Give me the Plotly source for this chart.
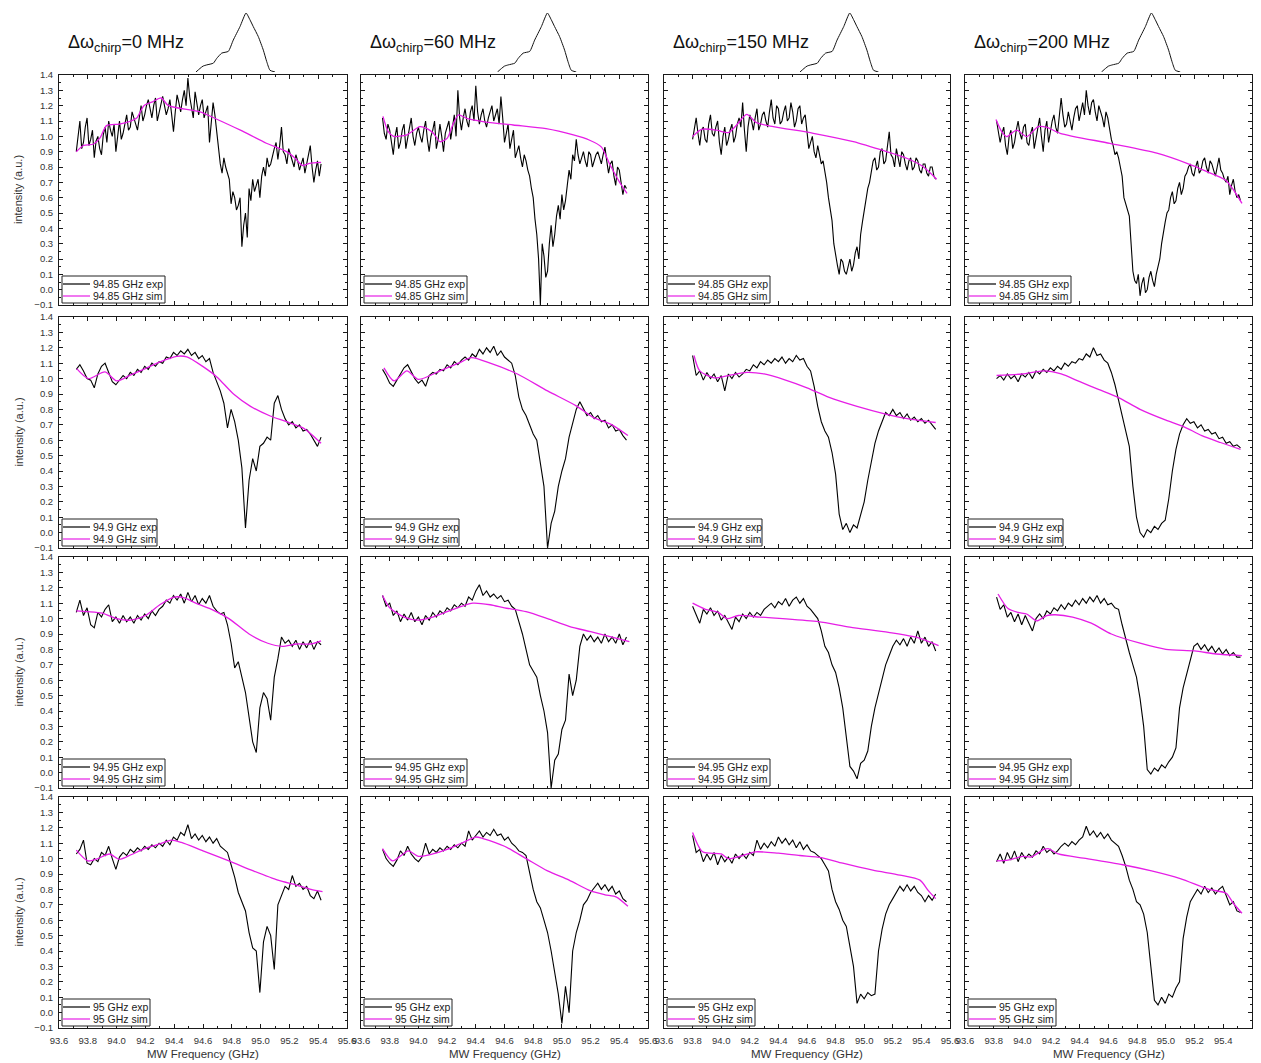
import numpy as np
import plotly.graph_objects as go

# ---------------------------------------------------------------- page geometry
W, H = 1261, 1063
FONT = "Arial, Liberation Sans, sans-serif"
COL_PX = [(59, 347), (361, 648), (664, 950), (965, 1252)]   # left/right of each column
ROW_PX = [(75, 305), (317, 548), (557, 788), (797, 1028)]   # top/bottom of each row
KEY_W = [106, 98, 106, 91]                                   # width of the key box per row

CHIRP_MHZ = ["0", "60", "150", "200"]
CENTER_GHZ = ["94.85", "94.9", "94.95", "95"]
EXP_START = [93.72, 93.75, 93.80, 93.82]   # first sample of each column's sweep (GHz)
EXP_STEP = [0.0125, 0.025, 0.025, 0.025]    # sweep step of each row (GHz)

# ---------------------------------------------------------------- experimental spectra
exp_94_85_c0 = [0.90, 1.02, 1.10, 0.92, 0.96, 1.06, 1.12, 0.94, 0.98, 1.04,
                0.86, 0.97, 1.00, 0.92, 0.88, 1.01, 1.06, 0.96, 1.10, 1.04,
                1.00, 1.08, 0.90, 1.00, 1.10, 0.98, 1.02, 1.08, 1.14, 1.04,
                1.06, 1.16, 1.12, 1.08, 1.04, 1.12, 1.20, 1.10, 1.14, 1.20,
                1.24, 1.18, 1.12, 1.20, 1.25, 1.10, 1.16, 1.22, 1.26, 1.20,
                1.14, 1.18, 1.24, 1.14, 1.03, 1.16, 1.27, 1.22, 1.16, 1.24,
                1.30, 1.20, 1.38, 1.26, 1.18, 1.12, 1.29, 1.22, 1.14, 1.20,
                1.24, 1.12, 1.16, 1.20, 0.96, 1.08, 1.22, 1.14, 1.02, 0.94,
                0.82, 0.76, 0.86, 0.80, 0.76, 0.72, 0.56, 0.64, 0.60, 0.52,
                0.55, 0.60, 0.28, 0.42, 0.50, 0.34, 0.66, 0.58, 0.72, 0.64,
                0.68, 0.72, 0.60, 0.74, 0.80, 0.74, 0.86, 0.80, 0.82, 0.88,
                0.92, 0.96, 0.85, 0.94, 1.06, 0.90, 0.88, 0.82, 0.92, 0.88,
                0.84, 0.80, 0.88, 0.84, 0.78, 0.82, 0.86, 0.76, 0.82, 0.86,
                0.94, 0.80, 0.70, 0.78, 0.84, 0.74, 0.82]
exp_94_85_c60 = [1.12, 1.02, 0.98, 1.08, 1.04, 0.96, 0.88, 1.00, 1.06, 0.92,
                 0.96, 1.04, 1.08, 0.92, 0.98, 1.04, 1.12, 1.00, 0.94, 1.02,
                 1.06, 1.00, 0.96, 1.04, 1.10, 0.98, 0.90, 1.00, 1.04, 1.10,
                 0.92, 0.98, 1.08, 1.00, 0.90, 1.02, 1.06, 1.10, 0.98, 1.06,
                 1.14, 1.00, 1.30, 1.12, 1.04, 1.12, 1.18, 1.10, 1.06, 1.16,
                 1.20, 1.10, 1.33, 1.16, 1.08, 1.14, 1.18, 1.10, 1.06, 1.12,
                 1.16, 1.20, 1.10, 1.14, 1.18, 1.08, 1.26, 1.12, 0.96, 1.02,
                 1.08, 0.92, 0.98, 1.04, 0.86, 0.90, 0.94, 0.86, 0.80, 0.88,
                 0.84, 0.78, 0.74, 0.66, 0.60, 0.46, 0.36, 0.20, -0.10, 0.30,
                 0.22, 0.08, 0.12, 0.30, 0.42, 0.28, 0.36, 0.48, 0.55, 0.46,
                 0.62, 0.52, 0.58, 0.68, 0.78, 0.72, 0.88, 0.84, 0.98, 0.88,
                 0.82, 0.86, 0.90, 0.84, 0.80, 0.90, 0.88, 0.80, 0.84, 0.88,
                 0.90, 0.86, 0.82, 0.88, 0.93, 0.84, 0.76, 0.82, 0.84, 0.74,
                 0.68, 0.80, 0.78, 0.70, 0.62, 0.68, 0.66]
exp_94_85_c150 = [0.98, 1.04, 1.12, 1.02, 0.94, 1.04, 1.06, 0.98, 0.96, 1.08,
                  1.14, 1.02, 1.00, 1.06, 1.10, 0.96, 0.88, 1.00, 1.06, 0.94,
                  0.98, 1.04, 1.08, 0.96, 1.00, 1.08, 1.12, 1.06, 1.22, 1.04,
                  0.90, 1.06, 1.14, 1.10, 1.04, 1.12, 1.18, 1.04, 1.08, 1.14,
                  1.16, 1.10, 1.06, 1.16, 1.24, 1.12, 1.08, 1.20, 1.18, 1.08,
                  1.10, 1.16, 1.20, 1.10, 1.12, 1.22, 1.16, 1.06, 1.10, 1.18,
                  1.20, 1.08, 1.12, 1.14, 1.02, 0.92, 0.96, 1.00, 0.90, 0.86,
                  0.94, 0.88, 0.82, 0.84, 0.78, 0.70, 0.60, 0.52, 0.45, 0.30,
                  0.22, 0.16, 0.10, 0.20, 0.18, 0.12, 0.10, 0.16, 0.20, 0.12,
                  0.16, 0.24, 0.28, 0.20, 0.36, 0.44, 0.52, 0.58, 0.66, 0.70,
                  0.78, 0.84, 0.86, 0.78, 0.80, 0.90, 0.92, 0.82, 0.84, 0.94,
                  1.03, 0.88, 0.86, 0.80, 0.92, 0.86, 0.80, 0.90, 0.88, 0.82,
                  0.78, 0.84, 0.86, 0.78, 0.80, 0.86, 0.84, 0.78, 0.76, 0.82,
                  0.82, 0.76, 0.74, 0.80, 0.80, 0.74, 0.72]
exp_94_85_c200 = [1.10, 1.04, 0.96, 1.02, 1.06, 0.94, 0.88, 1.00, 1.04, 0.92,
                  0.96, 1.04, 1.10, 1.02, 0.98, 1.06, 1.08, 0.96, 0.94, 1.02,
                  1.06, 0.92, 0.98, 1.06, 1.12, 1.00, 0.90, 1.04, 1.10, 0.96,
                  1.04, 1.10, 1.14, 1.06, 1.02, 1.12, 1.25, 1.14, 1.06, 1.08,
                  1.16, 1.10, 1.04, 1.12, 1.18, 1.20, 1.10, 1.16, 1.22, 1.14,
                  1.30, 1.20, 1.14, 1.22, 1.24, 1.16, 1.10, 1.20, 1.16, 1.12,
                  1.06, 1.16, 1.12, 1.04, 0.98, 0.94, 0.88, 0.90, 0.86, 0.80,
                  0.74, 0.60, 0.56, 0.52, 0.48, 0.30, 0.12, 0.06, 0.04, 0.10,
                  -0.04, 0.04, 0.08, -0.02, 0.00, 0.08, 0.12, 0.06, 0.02, 0.10,
                  0.16, 0.20, 0.30, 0.38, 0.44, 0.50, 0.52, 0.60, 0.64, 0.56,
                  0.58, 0.66, 0.70, 0.62, 0.66, 0.74, 0.76, 0.80, 0.82, 0.76,
                  0.74, 0.80, 0.84, 0.76, 0.78, 0.84, 0.86, 0.80, 0.76, 0.84,
                  0.82, 0.78, 0.74, 0.80, 0.86, 0.78, 0.76, 0.72, 0.70, 0.74,
                  0.62, 0.68, 0.72, 0.64, 0.60, 0.62, 0.58]

exp_94_9_c0 = [1.06, 1.09, 1.05, 1.00, 0.99, 0.94, 1.03, 1.08, 1.10, 1.04,
               0.98, 0.96, 0.99, 1.02, 1.00, 1.04, 1.02, 1.06, 1.04, 1.08,
               1.06, 1.10, 1.08, 1.11, 1.10, 1.14, 1.13, 1.17, 1.15, 1.18,
               1.16, 1.19, 1.15, 1.17, 1.13, 1.15, 1.11, 1.13, 1.04, 0.98,
               0.92, 0.84, 0.68, 0.80, 0.72, 0.60, 0.42, 0.03, 0.34, 0.48,
               0.40, 0.56, 0.58, 0.62, 0.60, 0.84, 0.89, 0.80, 0.74, 0.70,
               0.72, 0.68, 0.70, 0.66, 0.67, 0.64, 0.60, 0.56, 0.62]
exp_94_9_c60 = [1.06, 1.02, 0.97, 0.95, 0.99, 1.03, 1.07, 1.09, 1.04, 1.00,
                0.97, 0.99, 0.95, 1.02, 1.04, 1.03, 1.06, 1.05, 1.09, 1.07,
                1.11, 1.09, 1.12, 1.14, 1.12, 1.16, 1.14, 1.19, 1.16, 1.20,
                1.17, 1.21, 1.15, 1.18, 1.14, 1.12, 1.10, 1.02, 0.88, 0.80,
                0.76, 0.70, 0.64, 0.60, 0.44, 0.30, -0.10, 0.06, 0.14, 0.30,
                0.40, 0.48, 0.62, 0.72, 0.80, 0.85, 0.80, 0.76, 0.78, 0.74,
                0.76, 0.72, 0.73, 0.68, 0.70, 0.66, 0.67, 0.63, 0.60]
exp_94_9_c150 = [1.15, 1.02, 1.05, 0.99, 1.04, 1.00, 1.03, 0.98, 1.02, 0.92,
                 1.03, 1.00, 1.04, 1.01, 1.03, 1.06, 1.05, 1.09, 1.07, 1.11,
                 1.09, 1.12, 1.10, 1.13, 1.11, 1.14, 1.10, 1.13, 1.11, 1.15,
                 1.12, 1.13, 1.08, 1.05, 0.95, 0.82, 0.72, 0.66, 0.62, 0.52,
                 0.38, 0.12, 0.02, 0.06, 0.00, 0.05, 0.03, 0.12, 0.20, 0.34,
                 0.46, 0.58, 0.66, 0.72, 0.78, 0.76, 0.80, 0.76, 0.78, 0.74,
                 0.77, 0.73, 0.75, 0.72, 0.74, 0.71, 0.73, 0.70, 0.67]
exp_94_9_c200 = [1.00, 1.02, 0.99, 1.03, 1.00, 1.02, 0.98, 1.03, 1.01, 1.04,
                 1.00, 1.05, 1.03, 1.06, 1.04, 1.07, 1.05, 1.08, 1.06, 1.10,
                 1.08, 1.11, 1.10, 1.13, 1.12, 1.16, 1.14, 1.20, 1.15, 1.16,
                 1.12, 1.10, 1.04, 0.96, 0.86, 0.76, 0.64, 0.56, 0.30, 0.10,
                 0.00, -0.03, 0.02, 0.00, 0.04, 0.02, 0.06, 0.08, 0.22, 0.40,
                 0.54, 0.64, 0.70, 0.74, 0.71, 0.72, 0.68, 0.70, 0.66, 0.67,
                 0.64, 0.65, 0.61, 0.62, 0.58, 0.59, 0.56, 0.57, 0.55]

exp_94_95_c0 = [1.04, 1.12, 1.02, 1.07, 0.96, 0.94, 1.04, 1.01, 1.06, 1.09,
                0.98, 1.01, 0.97, 1.02, 0.98, 1.01, 0.97, 1.02, 0.99, 1.03,
                1.00, 1.05, 1.02, 1.06, 1.08, 1.12, 1.10, 1.15, 1.12, 1.16,
                1.10, 1.17, 1.11, 1.15, 1.09, 1.13, 1.10, 1.15, 1.08, 1.05,
                1.03, 1.04, 0.96, 0.84, 0.68, 0.72, 0.62, 0.52, 0.36, 0.20,
                0.13, 0.42, 0.52, 0.48, 0.34, 0.62, 0.74, 0.88, 0.84, 0.86,
                0.82, 0.86, 0.80, 0.85, 0.81, 0.86, 0.80, 0.85, 0.83]
exp_94_95_c60 = [1.15, 1.08, 1.10, 1.02, 1.05, 0.98, 1.03, 0.99, 1.04, 0.98,
                 1.01, 0.96, 1.02, 0.99, 1.04, 1.01, 1.05, 1.03, 1.07, 1.05,
                 1.09, 1.07, 1.10, 1.08, 1.14, 1.12, 1.18, 1.22, 1.15, 1.18,
                 1.14, 1.16, 1.13, 1.15, 1.11, 1.12, 1.08, 1.06, 0.98, 0.90,
                 0.80, 0.70, 0.66, 0.62, 0.50, 0.40, 0.26, -0.10, 0.08, 0.12,
                 0.28, 0.34, 0.64, 0.50, 0.60, 0.82, 0.90, 0.86, 0.89, 0.85,
                 0.88, 0.84, 0.90, 0.85, 0.88, 0.84, 0.90, 0.83, 0.88]
exp_94_95_c150 = [1.08, 1.02, 0.97, 1.06, 1.03, 1.07, 1.02, 1.05, 0.99, 1.02,
                  0.97, 0.93, 1.01, 0.98, 1.03, 1.00, 1.04, 1.01, 1.04, 1.02,
                  1.06, 1.08, 1.10, 1.07, 1.11, 1.09, 1.13, 1.08, 1.12, 1.14,
                  1.10, 1.13, 1.08, 1.06, 1.03, 1.00, 0.92, 0.82, 0.78, 0.70,
                  0.65, 0.55, 0.42, 0.22, 0.04, 0.01, -0.04, 0.06, 0.08, 0.14,
                  0.30, 0.42, 0.52, 0.60, 0.70, 0.76, 0.82, 0.86, 0.83, 0.87,
                  0.82, 0.88, 0.84, 0.92, 0.84, 0.88, 0.82, 0.85, 0.79]
exp_94_95_c200 = [1.14, 1.06, 1.09, 1.01, 1.04, 0.98, 1.03, 0.96, 1.02, 0.97,
                  0.92, 1.00, 1.03, 1.00, 1.05, 1.03, 1.07, 1.05, 1.09, 1.06,
                  1.10, 1.08, 1.12, 1.09, 1.13, 1.10, 1.14, 1.11, 1.15, 1.10,
                  1.13, 1.09, 1.10, 1.07, 1.06, 0.96, 0.86, 0.78, 0.70, 0.62,
                  0.48, 0.30, 0.02, -0.01, 0.03, 0.01, 0.05, 0.03, 0.07, 0.10,
                  0.16, 0.42, 0.55, 0.64, 0.72, 0.82, 0.84, 0.80, 0.83, 0.79,
                  0.82, 0.78, 0.81, 0.77, 0.80, 0.76, 0.78, 0.75, 0.75]

exp_95_c0 = [1.03, 1.06, 1.12, 0.97, 0.96, 1.00, 0.98, 1.04, 1.02, 1.08,
             1.00, 0.93, 1.01, 1.04, 1.02, 1.06, 1.04, 1.07, 1.05, 1.08,
             1.06, 1.09, 1.07, 1.10, 1.08, 1.12, 1.09, 1.14, 1.12, 1.17,
             1.15, 1.22, 1.13, 1.16, 1.12, 1.15, 1.11, 1.14, 1.10, 1.13,
             1.08, 1.06, 1.04, 0.96, 0.88, 0.78, 0.72, 0.66, 0.52, 0.42,
             0.40, 0.13, 0.46, 0.56, 0.50, 0.28, 0.70, 0.76, 0.82, 0.80,
             0.89, 0.82, 0.84, 0.80, 0.82, 0.76, 0.74, 0.79, 0.73]
exp_95_c60 = [1.06, 1.00, 0.97, 0.95, 0.99, 1.05, 1.02, 1.08, 1.03, 1.00,
              0.98, 1.01, 1.10, 1.03, 1.06, 1.04, 1.07, 1.05, 1.08, 1.06,
              1.09, 1.07, 1.10, 1.08, 1.18, 1.12, 1.15, 1.18, 1.14, 1.17,
              1.15, 1.19, 1.15, 1.16, 1.12, 1.14, 1.10, 1.08, 1.05, 1.04,
              1.02, 0.90, 0.80, 0.72, 0.68, 0.60, 0.52, 0.40, 0.26, 0.12,
              -0.07, 0.17, 0.00, 0.40, 0.52, 0.60, 0.70, 0.73, 0.78, 0.81,
              0.84, 0.80, 0.83, 0.79, 0.82, 0.77, 0.79, 0.74, 0.72]
exp_95_c150 = [1.15, 1.04, 1.06, 0.98, 1.03, 0.99, 1.04, 0.96, 1.02, 0.98,
               1.01, 0.97, 1.03, 1.00, 1.03, 1.00, 1.04, 1.02, 1.12, 1.06,
               1.10, 1.07, 1.11, 1.08, 1.14, 1.10, 1.13, 1.09, 1.12, 1.07,
               1.11, 1.06, 1.09, 1.05, 1.04, 1.02, 1.00, 0.96, 0.92, 0.80,
               0.72, 0.67, 0.60, 0.56, 0.44, 0.30, 0.06, 0.12, 0.09, 0.13,
               0.11, 0.12, 0.40, 0.54, 0.64, 0.70, 0.74, 0.78, 0.82, 0.79,
               0.83, 0.79, 0.82, 0.78, 0.76, 0.72, 0.76, 0.73, 0.77]
exp_95_c200 = [0.98, 1.03, 0.97, 1.04, 0.99, 1.05, 0.98, 1.04, 1.00, 1.03,
               1.01, 1.05, 1.03, 1.08, 1.04, 1.06, 1.03, 1.05, 1.08, 1.10,
               1.08, 1.11, 1.09, 1.12, 1.14, 1.21, 1.15, 1.18, 1.14, 1.17,
               1.13, 1.16, 1.12, 1.10, 1.08, 1.02, 0.95, 0.86, 0.80, 0.72,
               0.70, 0.64, 0.52, 0.30, 0.08, 0.05, 0.10, 0.06, 0.12, 0.10,
               0.16, 0.20, 0.48, 0.62, 0.72, 0.76, 0.80, 0.77, 0.82, 0.78,
               0.81, 0.77, 0.80, 0.82, 0.76, 0.70, 0.72, 0.66, 0.65]

# ---------------------------------------------------------------- simulated spectra (x, y)
sim_x_94_85_c0 = [93.72, 93.77, 93.84, 93.885, 93.93, 94.02, 94.10, 94.14, 94.19, 94.25, 94.31,
                  94.36, 94.58, 94.70, 94.86, 95.04, 95.18, 95.24, 95.29, 95.34, 95.42]
sim_y_94_85_c0 = [0.90, 0.94, 0.95, 0.99, 1.07, 1.08, 1.10, 1.12, 1.20, 1.225, 1.25,
                  1.20, 1.16, 1.11, 1.04, 0.955, 0.90, 0.857, 0.81, 0.824, 0.83]
sim_x_94_85_c60 = [93.753, 93.79, 93.827, 93.92, 94.01, 94.06, 94.105, 94.15, 94.20, 94.244, 94.28,
                   94.337, 94.45, 94.66, 94.89, 95.08, 95.19, 95.276, 95.33, 95.40, 95.454]
sim_y_94_85_c60 = [1.13, 1.03, 1.00, 1.01, 1.063, 1.05, 1.02, 0.965, 0.987, 1.085, 1.14,
                   1.117, 1.096, 1.074, 1.05, 1.009, 0.976, 0.93, 0.824, 0.704, 0.628]
sim_x_94_85_c150 = [93.798, 93.863, 93.968, 94.05, 94.108, 94.178, 94.248, 94.365, 94.644,
                    94.924, 95.157, 95.297, 95.413, 95.507]
sim_y_94_85_c150 = [0.998, 1.046, 1.04, 1.024, 1.074, 1.143, 1.089, 1.063, 1.02,
                    0.965, 0.90, 0.857, 0.802, 0.72]
sim_x_94_85_c200 = [93.816, 93.856, 93.89, 93.96, 94.03, 94.11, 94.17, 94.263, 94.61,
                    94.937, 95.147, 95.286, 95.414, 95.472, 95.53]
sim_y_94_85_c200 = [1.11, 1.03, 0.998, 1.04, 0.998, 1.063, 1.059, 1.02, 0.954,
                    0.89, 0.824, 0.77, 0.715, 0.65, 0.563]

sim_x_94_9_c0 = [93.723, 93.804, 93.92, 94.00, 94.094, 94.20, 94.302, 94.418, 94.488, 94.603,
                 94.696, 94.812, 94.93, 95.067, 95.18, 95.30, 95.42]
sim_y_94_9_c0 = [1.065, 1.00, 1.044, 0.985, 1.022, 1.065, 1.109, 1.145, 1.141, 1.076,
                 1.011, 0.90, 0.82, 0.757, 0.72, 0.677, 0.58]
sim_x_94_9_c60 = [93.76, 93.83, 93.92, 94.00, 94.15, 94.28, 94.37, 94.50, 94.69, 94.90,
                  95.10, 95.22, 95.34, 95.46]
sim_y_94_9_c60 = [1.07, 0.985, 1.05, 0.995, 1.05, 1.10, 1.136, 1.10, 1.03, 0.92,
                  0.823, 0.747, 0.704, 0.63]
sim_x_94_9_c150 = [93.81, 93.85, 93.95, 94.05, 94.18, 94.30, 94.45, 94.60, 94.75, 94.95,
                   95.15, 95.30, 95.50]
sim_y_94_9_c150 = [1.15, 1.05, 1.005, 1.02, 1.04, 1.03, 0.99, 0.94, 0.88, 0.82,
                   0.77, 0.74, 0.715]
sim_x_94_9_c200 = [93.82, 94.00, 94.15, 94.27, 94.40, 94.53, 94.67, 94.82, 95.00, 95.12,
                   95.25, 95.38, 95.52]
sim_y_94_9_c200 = [1.02, 1.03, 1.05, 1.03, 0.98, 0.93, 0.877, 0.80, 0.73, 0.69,
                   0.63, 0.585, 0.54]

sim_x_94_95_c0 = [93.72, 93.80, 93.90, 94.00, 94.10, 94.20, 94.30, 94.40, 94.47, 94.55,
                  94.67, 94.78, 94.92, 95.05, 95.15, 95.25, 95.35, 95.42]
sim_y_94_95_c0 = [1.05, 1.045, 1.035, 1.00, 0.99, 1.02, 1.09, 1.14, 1.135, 1.10,
                  1.055, 1.00, 0.90, 0.84, 0.82, 0.835, 0.835, 0.855]
sim_x_94_95_c60 = [93.75, 93.80, 93.90, 94.00, 94.10, 94.20, 94.30, 94.38, 94.50, 94.60,
                   94.75, 94.90, 95.05, 95.20, 95.35, 95.47]
sim_y_94_95_c60 = [1.15, 1.07, 1.01, 0.99, 1.01, 1.045, 1.08, 1.10, 1.09, 1.07,
                   1.045, 1.00, 0.95, 0.915, 0.88, 0.85]
sim_x_94_95_c150 = [93.80, 93.89, 93.98, 94.04, 94.12, 94.27, 94.43, 94.68, 94.90, 95.17,
                    95.38, 95.52]
sim_y_94_95_c150 = [1.10, 1.06, 1.04, 1.00, 1.02, 1.01, 1.00, 0.98, 0.945, 0.91,
                    0.875, 0.825]
sim_x_94_95_c200 = [93.83, 93.90, 93.97, 94.03, 94.10, 94.17, 94.23, 94.35, 94.48, 94.62,
                    94.82, 95.00, 95.20, 95.35, 95.53]
sim_y_94_95_c200 = [1.16, 1.065, 1.04, 1.03, 0.985, 1.02, 1.025, 1.01, 0.97, 0.90,
                    0.84, 0.80, 0.79, 0.77, 0.76]

sim_x_95_c0 = [93.72, 93.80, 93.87, 93.95, 94.02, 94.10, 94.20, 94.30, 94.38, 94.45,
               94.60, 94.78, 94.95, 95.12, 95.25, 95.35, 95.43]
sim_y_95_c0 = [1.055, 0.985, 1.00, 1.03, 0.995, 1.025, 1.066, 1.095, 1.12, 1.105,
               1.05, 0.985, 0.92, 0.86, 0.828, 0.80, 0.785]
sim_x_95_c60 = [93.75, 93.82, 93.93, 94.00, 94.10, 94.20, 94.30, 94.40, 94.45, 94.60,
                94.75, 94.90, 95.05, 95.20, 95.30, 95.38, 95.46]
sim_y_95_c60 = [1.065, 0.985, 1.05, 1.015, 1.03, 1.06, 1.10, 1.14, 1.13, 1.08,
                1.00, 0.92, 0.86, 0.79, 0.765, 0.75, 0.69]
sim_x_95_c150 = [93.80, 93.87, 94.00, 94.05, 94.15, 94.24, 94.40, 94.55, 94.70, 94.85,
                 95.06, 95.25, 95.39, 95.45, 95.50]
sim_y_95_c150 = [1.17, 1.044, 1.03, 1.00, 1.02, 1.044, 1.035, 1.02, 1.007, 0.97,
                 0.925, 0.893, 0.86, 0.79, 0.74]
sim_x_95_c200 = [93.82, 93.90, 94.00, 94.06, 94.15, 94.18, 94.25, 94.45, 94.70, 94.90,
                 95.10, 95.30, 95.42, 95.47, 95.53]
sim_y_95_c200 = [0.985, 0.99, 1.015, 1.01, 1.06, 1.065, 1.03, 1.00, 0.96, 0.92,
                 0.87, 0.80, 0.775, 0.71, 0.645]

# ---------------------------------------------------------------- excitation pulse profile
pulse_ghz = [94.551, 94.579, 94.60, 94.626, 94.672, 94.695, 94.73, 94.776, 94.81, 94.857,
             94.899, 94.925, 94.949, 94.984, 95.019, 95.042, 95.065, 95.10]
pulse_amp = [0.0, 0.06, 0.10, 0.12, 0.15, 0.23, 0.32, 0.35, 0.54, 0.77,
             1.0, 0.89, 0.77, 0.60, 0.37, 0.18, 0.03, 0.0]

EXP = [[exp_94_85_c0, exp_94_85_c60, exp_94_85_c150, exp_94_85_c200],
       [exp_94_9_c0, exp_94_9_c60, exp_94_9_c150, exp_94_9_c200],
       [exp_94_95_c0, exp_94_95_c60, exp_94_95_c150, exp_94_95_c200],
       [exp_95_c0, exp_95_c60, exp_95_c150, exp_95_c200]]
SIM_X = [[sim_x_94_85_c0, sim_x_94_85_c60, sim_x_94_85_c150, sim_x_94_85_c200],
         [sim_x_94_9_c0, sim_x_94_9_c60, sim_x_94_9_c150, sim_x_94_9_c200],
         [sim_x_94_95_c0, sim_x_94_95_c60, sim_x_94_95_c150, sim_x_94_95_c200],
         [sim_x_95_c0, sim_x_95_c60, sim_x_95_c150, sim_x_95_c200]]
SIM_Y = [[sim_y_94_85_c0, sim_y_94_85_c60, sim_y_94_85_c150, sim_y_94_85_c200],
         [sim_y_94_9_c0, sim_y_94_9_c60, sim_y_94_9_c150, sim_y_94_9_c200],
         [sim_y_94_95_c0, sim_y_94_95_c60, sim_y_94_95_c150, sim_y_94_95_c200],
         [sim_y_95_c0, sim_y_95_c60, sim_y_95_c150, sim_y_95_c200]]

EXP_COLOR = "#000000"
SIM_COLOR = "#e61ee6"
AXIS_COLOR = "#1a1a1a"
LABEL_COLOR = "#333333"
KEY_COLOR = "#222222"


def px_x(px):
    return px / W


def px_y(px):
    return 1 - px / H


def suffix(k):
    return "" if k == 1 else str(k)


fig = go.Figure()
layout = dict(width=W, height=H, autosize=False,
              margin=dict(l=0, r=0, t=0, b=0, autoexpand=False),
              paper_bgcolor="white", plot_bgcolor="white",
              font=dict(family=FONT, color=LABEL_COLOR),
              showlegend=False,
              annotations=[], shapes=[])

axis_common = dict(showline=True, linecolor=AXIS_COLOR, linewidth=1, mirror="allticks",
                   ticks="inside", ticklen=4, tickwidth=1, tickcolor=AXIS_COLOR,
                   showgrid=False, zeroline=False, fixedrange=True, automargin=False,
                   tickfont=dict(family=FONT, size=9.5, color=LABEL_COLOR))

for r in range(4):
    for c in range(4):
        k = r * 4 + c + 1
        s = suffix(k)
        x_exp = np.round(EXP_START[c] + EXP_STEP[r] * np.arange(len(EXP[r][c])), 4)
        fig.add_trace(go.Scatter(x=x_exp, y=EXP[r][c], mode="lines",
                                 line=dict(color=EXP_COLOR, width=1.1),
                                 name=f"{CENTER_GHZ[r]} GHz exp",
                                 xaxis="x" + s, yaxis="y" + s))
        fig.add_trace(go.Scatter(x=SIM_X[r][c], y=SIM_Y[r][c], mode="lines",
                                 line=dict(color=SIM_COLOR, width=1.3, shape="spline", smoothing=0.7),
                                 name=f"{CENTER_GHZ[r]} GHz sim",
                                 xaxis="x" + s, yaxis="y" + s))

        l_px, r_px = COL_PX[c]
        t_px, b_px = ROW_PX[r]
        layout["xaxis" + s] = dict(axis_common, domain=[px_x(l_px), px_x(r_px)], anchor="y" + s,
                                   range=[93.6, 95.6], tick0=93.6, dtick=0.2, tickformat=".1f",
                                   showticklabels=(r == 3), ticklabelstandoff=4,
                                   minor=dict(ticks="inside", ticklen=2, dtick=0.1,
                                              tickcolor=AXIS_COLOR, showgrid=False))
        layout["yaxis" + s] = dict(axis_common, domain=[px_y(b_px), px_y(t_px)], anchor="x" + s,
                                   range=[-0.1, 1.4], tick0=0, dtick=0.1, tickformat=".1f",
                                   showticklabels=(c == 0), ticklabelstandoff=3,
                                   minor=dict(ticks="inside", ticklen=2, dtick=0.05,
                                              tickcolor=AXIS_COLOR, showgrid=False))

        # key box in the lower-left corner of the panel
        kl = l_px + 3
        layout["shapes"].append(dict(type="rect", xref="paper", yref="paper", layer="above",
                                     x0=px_x(kl), x1=px_x(l_px + KEY_W[r]),
                                     y0=px_y(b_px - 2), y1=px_y(b_px - 29),
                                     line=dict(color=KEY_COLOR, width=1), fillcolor="white"))
        for row_y, color, label in ((b_px - 21, EXP_COLOR, "exp"), (b_px - 9, SIM_COLOR, "sim")):
            layout["shapes"].append(dict(type="line", xref="paper", yref="paper", layer="above",
                                         x0=px_x(l_px + 4), x1=px_x(l_px + 31),
                                         y0=px_y(row_y), y1=px_y(row_y),
                                         line=dict(color=color, width=1.2)))
            layout["annotations"].append(dict(
                text=f"{CENTER_GHZ[r]} GHz {label}", xref="paper", yref="paper",
                x=px_x(l_px + 32), y=px_y(row_y), xanchor="left", yanchor="middle",
                showarrow=False, font=dict(family=FONT, size=10.5, color=KEY_COLOR)))

# pulse profiles sitting above each column
for c in range(4):
    k = 17 + c
    s = str(k)
    fig.add_trace(go.Scatter(x=pulse_ghz, y=pulse_amp, mode="lines",
                             line=dict(color="#111111", width=1, shape="spline", smoothing=0.5),
                             hoverinfo="skip", xaxis="x" + s, yaxis="y" + s))
    l_px, r_px = COL_PX[c]
    layout["xaxis" + s] = dict(domain=[px_x(l_px), px_x(r_px)], anchor="y" + s, automargin=False,
                               range=[93.6, 95.6], visible=False, fixedrange=True)
    layout["yaxis" + s] = dict(domain=[px_y(72), px_y(13)], anchor="x" + s, automargin=False,
                               range=[0, 1], visible=False, fixedrange=True)

# column headers
for c in range(4):
    layout["annotations"].append(dict(
        text=f"Δω<sub>chirp</sub>={CHIRP_MHZ[c]} MHz", xref="paper", yref="paper",
        x=px_x(COL_PX[c][0] + 7), y=px_y(43), xanchor="left", yanchor="middle",
        showarrow=False, font=dict(family=FONT, size=18, color="#111111")))

# y-axis titles (left column) and x-axis titles (bottom row)
for r in range(4):
    t_px, b_px = ROW_PX[r]
    layout["annotations"].append(dict(
        text="intensity (a.u.)", xref="paper", yref="paper",
        x=px_x(18), y=px_y((t_px + b_px) / 2), textangle=-90,
        xanchor="center", yanchor="middle", showarrow=False,
        font=dict(family=FONT, size=11, color=LABEL_COLOR)))
for c in range(4):
    l_px, r_px = COL_PX[c]
    layout["annotations"].append(dict(
        text="MW Frequency (GHz)", xref="paper", yref="paper",
        x=px_x((l_px + r_px) / 2), y=px_y(1054), xanchor="center", yanchor="middle",
        showarrow=False, font=dict(family=FONT, size=11.5, color=LABEL_COLOR)))

fig.update_layout(**layout)
fig.write_html("out.html")
